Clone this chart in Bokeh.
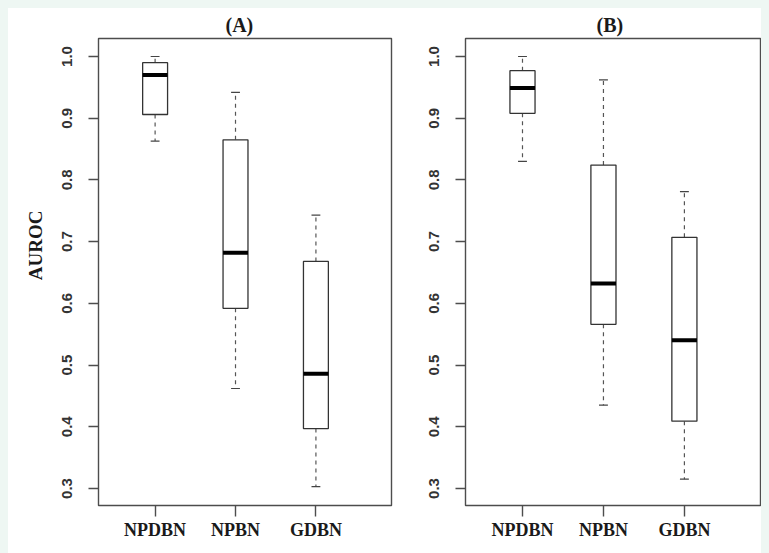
from bokeh.plotting import figure
from bokeh.layouts import row
from bokeh.models import FixedTicker, PrintfTickFormatter, Title, ColumnDataSource, Range1d
from bokeh.models import GlobalInlineStyleSheet
from bokeh.embed import file_html
from bokeh.resources import INLINE

categories = ["NPDBN", "NPBN", "GDBN"]
y_ticks = [0.3, 0.4, 0.5, 0.6, 0.7, 0.8, 0.9, 1.0]

# Panel A
a_lower = [0.863, 0.462, 0.303]
a_q1 = [0.906, 0.592, 0.397]
a_median = [0.970, 0.682, 0.486]
a_q3 = [0.990, 0.865, 0.668]
a_upper = [1.000, 0.942, 0.743]

# Panel B
b_lower = [0.830, 0.435, 0.315]
b_q1 = [0.908, 0.566, 0.409]
b_median = [0.949, 0.632, 0.540]
b_q3 = [0.977, 0.824, 0.707]
b_upper = [1.000, 0.962, 0.781]

BOX_W = 0.31
CAP_W = 0.11
SERIF = "Liberation Serif"
SANS = "Liberation Sans"


def make_panel(title, lower, q1, med, q3, upper, width, border_left, border_right, title_offset, ylabel):
    xs = [i + 1 for i in range(len(categories))]
    src = ColumnDataSource(dict(
        x=xs,
        left=[x - BOX_W / 2 for x in xs], right=[x + BOX_W / 2 for x in xs],
        cl=[x - CAP_W / 2 for x in xs], cr=[x + CAP_W / 2 for x in xs],
        lower=lower, q1=q1, med=med, q3=q3, upper=upper,
    ))
    p = figure(width=width, height=545, output_backend="svg", toolbar_location=None,
               x_range=Range1d(0.296, 3.94), y_range=Range1d(0.2724, 1.0292),
               min_border_left=border_left, min_border_right=border_right,
               min_border_top=30, min_border_bottom=48)
    p.background_fill_color = "white"
    p.border_fill_color = "white"
    p.outline_line_color = "#4d4d4d"
    p.outline_line_width = 1.4
    p.xgrid.visible = False
    p.ygrid.visible = False

    # whiskers
    p.segment(x0="x", y0="q3", x1="x", y1="upper", source=src, line_color="#555555",
              line_width=1.2, line_dash="4 4")
    p.segment(x0="x", y0="q1", x1="x", y1="lower", source=src, line_color="#555555",
              line_width=1.2, line_dash="4 4")
    # caps
    p.segment(x0="cl", y0="upper", x1="cr", y1="upper", source=src, line_color="#444444", line_width=1.2)
    p.segment(x0="cl", y0="lower", x1="cr", y1="lower", source=src, line_color="#444444", line_width=1.2)
    # boxes
    p.quad(left="left", right="right", bottom="q1", top="q3", source=src,
           fill_color="white", line_color="#333333", line_width=1.3)
    # medians
    p.segment(x0="left", y0="med", x1="right", y1="med", source=src, line_color="black",
              line_width=4, line_cap="butt")

    # x axis
    xa = p.xaxis[0]
    xa.ticker = FixedTicker(ticks=xs)
    xa.major_label_overrides = {x: c for x, c in zip(xs, categories)}
    xa.major_label_text_font = SERIF
    xa.major_label_text_font_style = "bold"
    xa.major_label_text_font_size = "18px"
    xa.major_label_text_color = "#1a1a1a"
    xa.major_tick_out = 11
    xa.major_tick_in = 0
    xa.minor_tick_line_color = None
    xa.axis_line_color = None
    xa.major_tick_line_color = "#4d4d4d"
    xa.major_tick_line_width = 1.4
    xa.major_label_standoff = 3

    # y axis
    ya = p.yaxis[0]
    ya.ticker = FixedTicker(ticks=y_ticks)
    ya.formatter = PrintfTickFormatter(format="%.1f")
    ya.major_label_orientation = "vertical"
    ya.major_label_text_font = SANS
    ya.major_label_text_font_style = "bold"
    ya.major_label_text_font_size = "15px"
    ya.major_label_text_color = "#333333"
    ya.major_tick_out = 10
    ya.major_tick_in = 0
    ya.minor_tick_line_color = None
    ya.axis_line_color = None
    ya.major_tick_line_color = "#4d4d4d"
    ya.major_tick_line_width = 1.4
    ya.major_label_standoff = 16

    p.add_layout(Title(text=title, align="left", offset=title_offset, standoff=6,
                       text_font=SERIF, text_font_style="bold", text_font_size="20px",
                       text_color="#1a1a1a"), "above")
    if ylabel:
        p.add_layout(Title(text=ylabel, align="right", offset=172, standoff=28,
                           text_font=SERIF, text_font_style="bold", text_font_size="19px",
                           text_color="#1a1a1a"), "left")
    return p


pa = make_panel("(A)", a_lower, a_q1, a_median, a_q3, a_upper, 392, 88, 9, 127, "AUROC")
pb = make_panel("(B)", b_lower, b_q1, b_median, b_q3, b_upper, 361, 65, 1, 131, None)

layout = row(pa, pb, spacing=0)
layout.styles = {"background-color": "white"}
layout.stylesheets = [GlobalInlineStyleSheet(
    css="html, body { background: #eef7f3 !important; overflow: hidden !important; }"
        " body { padding: 8px 0 0 8px !important; margin: 0 !important; }")]

open("out.html", "w").write(file_html(layout, INLINE))
